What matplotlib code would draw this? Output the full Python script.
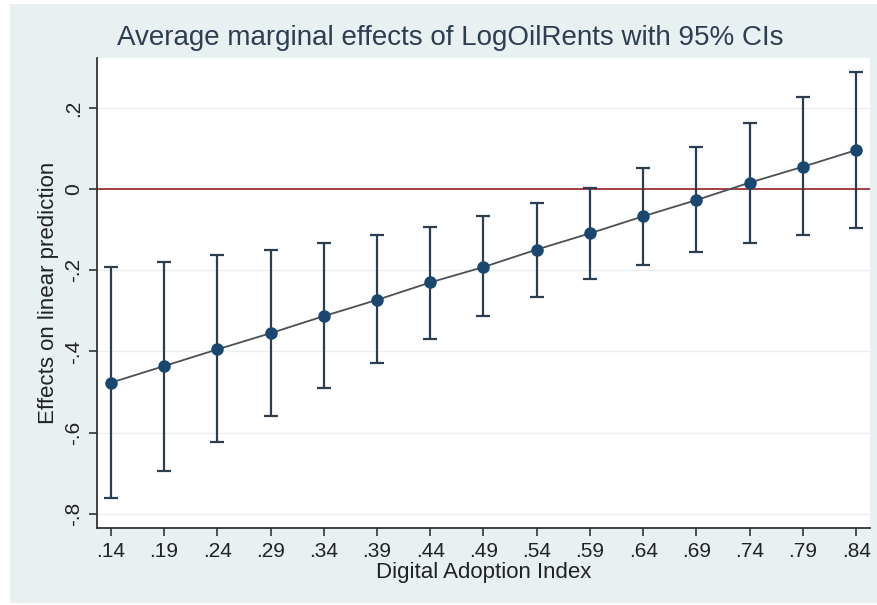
"""
Average marginal effects of LogOilRents with 95% CIs (Stata marginsplot style).
"""

import matplotlib
matplotlib.use("Agg")
import matplotlib.pyplot as plt
from matplotlib.patches import Rectangle

# ── Data ──────────────────────────────────────────────────────────────────────
dai = [0.14, 0.19, 0.24, 0.29, 0.34, 0.39, 0.44, 0.49, 0.54, 0.59,
       0.64, 0.69, 0.74, 0.79, 0.84]
effect = [-0.477, -0.436, -0.395, -0.355, -0.313, -0.273, -0.230, -0.192,
          -0.149, -0.109, -0.067, -0.027, 0.016, 0.055, 0.096]
ci_low = [-0.760, -0.694, -0.624, -0.558, -0.491, -0.429, -0.370, -0.313,
          -0.266, -0.222, -0.188, -0.156, -0.132, -0.114, -0.097]
ci_high = [-0.192, -0.180, -0.163, -0.149, -0.133, -0.114, -0.093, -0.066,
           -0.035, 0.003, 0.051, 0.104, 0.164, 0.226, 0.288]

x_labels = [".14", ".19", ".24", ".29", ".34", ".39", ".44", ".49", ".54",
            ".59", ".64", ".69", ".74", ".79", ".84"]
y_ticks = [-0.8, -0.6, -0.4, -0.2, 0.0, 0.2]
y_labels = ["-.8", "-.6", "-.4", "-.2", "0", ".2"]

# ── Style ─────────────────────────────────────────────────────────────────────
plt.rcParams["font.family"] = ["Liberation Sans", "DejaVu Sans"]
BG = "#E8F0F2"
NAVY = "#1A476F"
TXT = "#222222"

fig = plt.figure(figsize=(8.78, 6.05), dpi=100, facecolor="white")
# outer graph region (light bluish), leaving a thin white margin like the source
fig.patches.append(Rectangle((10 / 878, 0.003), 1 - 10 / 878, 1 - 4 / 605 - 0.003,
                             transform=fig.transFigure, facecolor=BG,
                             edgecolor="none", zorder=-5))

ax = fig.add_axes([97 / 878, 1 - 528 / 605, (870 - 97) / 878, (528 - 58) / 605])
ax.set_zorder(2)
ax.set_facecolor("white")

# gridlines
for yv in y_ticks:
    ax.axhline(yv, color="#EAF0F2", lw=1.0, zorder=0)

# zero reference line
ax.axhline(0, color="#A0303A", lw=1.3, zorder=1)

# CI bars
yerr = [[e - lo for e, lo in zip(effect, ci_low)],
        [hi - e for e, hi in zip(effect, ci_high)]]
ax.errorbar(dai, effect, yerr=yerr, fmt="none", ecolor="#2B3E50",
            elinewidth=1.6, capsize=5, capthick=1.6, zorder=2)

# connecting line + markers
ax.plot(dai, effect, color="#4A4F55", lw=1.3, zorder=3)
ax.plot(dai, effect, "o", color=NAVY, markersize=8, zorder=4)

ax.set_xlim(0.127, 0.853)
ax.set_ylim(-0.835, 0.323)

ax.set_xticks(dai)
ax.set_xticklabels(x_labels)
ax.set_yticks(y_ticks)
ax.set_yticklabels(y_labels, rotation=90, va="center")

ax.tick_params(axis="both", direction="out", length=6, width=1.2,
               colors="#333333", labelsize=15, labelcolor=TXT, pad=4)

for side in ("top", "right"):
    ax.spines[side].set_visible(False)
for side in ("left", "bottom"):
    ax.spines[side].set_color("#333333")
    ax.spines[side].set_linewidth(1.3)

ax.set_xlabel("Digital Adoption Index", fontsize=16, color=TXT, labelpad=1)
ax.set_ylabel("Effects on linear prediction", fontsize=16, color=TXT, labelpad=4)

fig.text(0.513, 1 - 38 / 605, "Average marginal effects of LogOilRents with 95% CIs",
         ha="center", va="center", fontsize=20, color="#2E3E50")

fig.savefig("out.png", dpi=100, facecolor=fig.get_facecolor())
